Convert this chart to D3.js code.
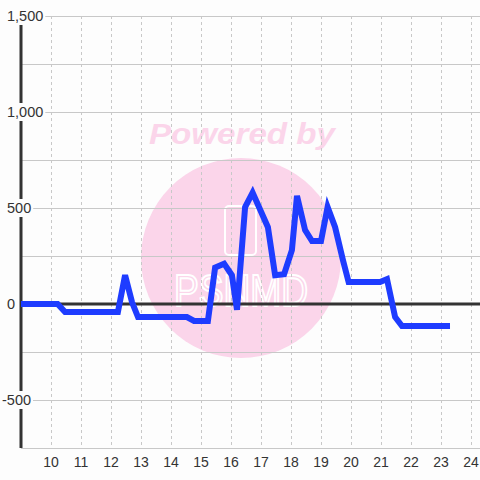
<!DOCTYPE html>
<html>
<head>
<meta charset="utf-8">
<script src="https://cdn.jsdelivr.net/npm/d3@7"></script>
<style>
html,body{margin:0;padding:0;background:#fdfdfd;}
svg{display:block;}
text{font-family:"Liberation Sans",Arial,sans-serif;}
</style>
</head>
<body>
<svg id="chart" width="480" height="480"></svg>
<script>
// Data (hour of day, value)
const hours = [9.0, 10.22, 10.47, 12.23, 12.47, 12.7, 12.9, 14.53, 14.77, 15.23, 15.47, 15.77, 16.03, 16.2, 16.47, 16.72, 17.23, 17.47, 17.77, 18.03, 18.2, 18.47, 18.7, 19.0, 19.22, 19.47, 19.73, 19.92, 20.97, 21.2, 21.47, 21.7, 23.3];
const values = [0, 0, -42, -42, 150, 10, -68, -68, -88, -88, 190, 210, 150, -30, 505, 580, 400, 150, 155, 280, 563, 385, 328, 328, 505, 400, 229, 115, 115, 130, -68, -115, -115];
const xTicks = [10, 11, 12, 13, 14, 15, 16, 17, 18, 19, 20, 21, 22, 23, 24];
const yGrid = [-750, -500, -250, 0, 250, 500, 750, 1000, 1250, 1500];
const yLabels = [-500, 0, 500, 1000, 1500];

const svg = d3.select("#chart");
const W = 480, H = 480;
const x = d3.scaleLinear().domain([9, 24.333]).range([21, 481]);
const y = d3.scaleLinear().domain([-750, 1500]).range([448, 16]);
const bg = "#fdfdfd";
svg.append("rect").attr("width", W).attr("height", H).attr("fill", bg);

// watermark
const wm = svg.append("g");
wm.append("circle").attr("cx", 241).attr("cy", 258).attr("r", 100).attr("fill", "#fbd5ea");
wm.append("text").attr("x", 242).attr("y", 144).attr("text-anchor", "middle")
  .attr("font-family", "'DejaVu Sans', sans-serif")
  .attr("font-size", 29).attr("font-weight", "bold").attr("font-style", "italic")
  .attr("fill", "#fbd5ea").attr("textLength", 186).attr("lengthAdjust", "spacingAndGlyphs")
  .text("Powered by");
wm.append("rect").attr("x", 225).attr("y", 206).attr("width", 31).attr("height", 49).attr("rx", 4)
  .attr("fill", "none").attr("stroke", "#ffffff").attr("stroke-width", 2);
wm.append("text").attr("x", 241).attr("y", 306).attr("text-anchor", "middle")
  .attr("font-size", 44).attr("fill", "none").attr("stroke", "#ffffff").attr("stroke-width", 2)
  .attr("textLength", 134).attr("lengthAdjust", "spacingAndGlyphs")
  .text("PSNMD");

// horizontal grid
svg.append("g").selectAll("line").data(yGrid).join("line")
  .attr("x1", 21).attr("x2", W).attr("y1", d => y(d)).attr("y2", d => y(d))
  .attr("stroke", "#c8c8c8").attr("stroke-width", 1).attr("shape-rendering", "crispEdges");

// vertical dashed grid
svg.append("g").selectAll("line").data(xTicks).join("line")
  .attr("x1", d => Math.round(x(d)) + 0.5).attr("x2", d => Math.round(x(d)) + 0.5)
  .attr("y1", y(1500)).attr("y2", y(-750))
  .attr("stroke", "#c8c8c8").attr("stroke-width", 1).attr("stroke-dasharray", "3,3");

// zero line
svg.append("line").attr("x1", 21).attr("x2", W).attr("y1", y(0)).attr("y2", y(0))
  .attr("stroke", "#333").attr("stroke-width", 3);

// y axis line
svg.append("line").attr("x1", 21).attr("x2", 21).attr("y1", y(1500)).attr("y2", y(-750))
  .attr("stroke", "#333").attr("stroke-width", 3);

// data line
const line = d3.line().x((d, i) => x(hours[i])).y(d => y(d));
svg.append("path").attr("d", line(values)).attr("fill", "none")
  .attr("stroke", "#1e3cff").attr("stroke-width", 6).attr("stroke-linejoin", "miter");

// y labels with background
const fmt = d3.format(",");
const yl = svg.append("g");
yLabels.forEach(v => {
  const t = yl.append("text").attr("x", v < 0 ? 2 : 7).attr("y", y(v) + 5)
    .attr("font-size", 14.5).attr("fill", "#333").text(fmt(v).replace("−", "-"));
  const b = t.node().getBBox();
  yl.insert("rect", "text").attr("x", b.x - 1).attr("y", b.y - 1).attr("width", b.width + 3).attr("height", b.height + 2).attr("fill", bg);
});

// x labels
svg.append("g").selectAll("text").data(xTicks).join("text")
  .attr("x", d => x(d)).attr("y", 467).attr("text-anchor", "middle")
  .attr("font-size", 14).attr("fill", "#333").text(d => d);
</script>
</body>
</html>
